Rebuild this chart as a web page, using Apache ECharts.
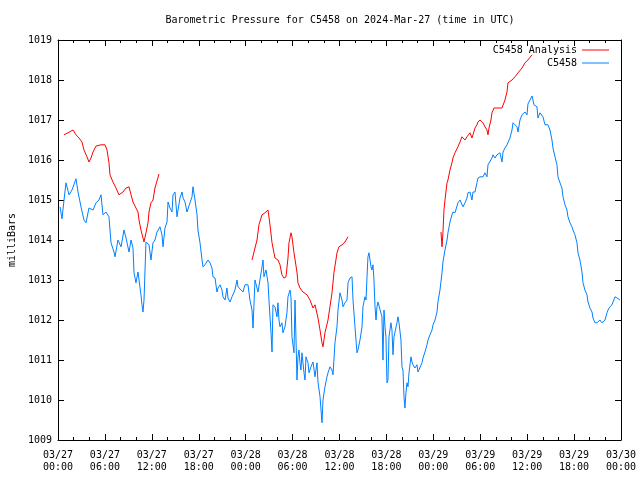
<!DOCTYPE html>
<html>
<head>
<meta charset="utf-8">
<script src="https://cdn.jsdelivr.net/npm/echarts@6/dist/echarts.min.js"></script>
<style>html,body{margin:0;padding:0;background:#fff}#c{width:640px;height:480px}</style>
</head>
<body>
<div id="c"></div>
<script>
// hours since 2024-03-27 00:00 UTC, pressure (mb)
const station = [
[0.26,1014.83],[0.51,1014.53],[0.77,1015.00],[1.02,1015.43],[1.41,1015.13],[1.79,1015.25],[2.30,1015.53],[2.56,1015.20],
[2.94,1014.83],[3.32,1014.50],[3.58,1014.43],[3.96,1014.80],[4.48,1014.75],[4.86,1014.93],[5.24,1015.00],[5.50,1015.13],
[5.75,1014.63],[6.14,1014.70],[6.52,1014.58],[6.78,1013.93],[7.16,1013.70],[7.29,1013.58],[7.67,1014.00],[8.06,1013.83],
[8.44,1014.25],[8.70,1014.05],[9.08,1013.70],[9.34,1014.00],[9.59,1013.80],[9.72,1013.18],[9.97,1012.93],[10.23,1013.20],
[10.36,1013.18],[10.61,1012.63],[10.74,1012.38],[10.87,1012.20],[11.00,1012.50],[11.13,1013.25],[11.25,1013.95],[11.64,1013.88],
[11.89,1013.50],[12.15,1013.93],[12.40,1014.00],[12.66,1014.20],[13.04,1014.33],[13.30,1014.13],[13.43,1013.83],[13.68,1014.30],
[13.94,1014.45],[14.07,1014.95],[14.32,1014.80],[14.58,1014.70],[14.71,1015.13],[14.96,1015.20],[15.22,1014.58],[15.35,1014.75],
[15.60,1015.05],[15.86,1015.20],[15.99,1015.05],[16.24,1014.95],[16.50,1014.70],[16.62,1014.68],[16.88,1014.93],[17.14,1015.08],
[17.26,1015.33],[17.52,1015.00],[17.78,1014.63],[17.90,1014.25],[18.16,1013.93],[18.42,1013.50],[18.54,1013.33],[18.80,1013.38],
[19.18,1013.50],[19.44,1013.43],[19.69,1013.30],[19.82,1013.08],[20.08,1013.05],[20.33,1012.70],[20.46,1012.80],[20.72,1012.88],
[20.97,1012.75],[21.10,1012.58],[21.36,1012.50],[21.61,1012.80],[21.74,1012.55],[22.00,1012.45],[22.25,1012.58],[22.38,1012.63],
[22.63,1012.75],[22.89,1013.00],[23.02,1012.83],[23.27,1012.80],[23.66,1012.70],[23.91,1012.88],[24.30,1012.88],[24.55,1012.50],
[24.81,1012.25],[24.94,1011.80],[25.19,1013.00],[25.45,1012.80],[25.58,1012.70],[25.83,1012.75],[26.09,1013.33],[26.22,1013.50],
[26.34,1013.08],[26.60,1013.25],[26.86,1012.93],[26.98,1012.50],[27.24,1011.68],[27.37,1011.20],[27.49,1012.38],[27.75,1012.33],
[28.01,1012.08],[28.13,1012.43],[28.26,1012.00],[28.39,1011.83],[28.64,1011.93],[28.77,1011.68],[29.03,1011.83],[29.28,1012.18],
[29.41,1012.58],[29.67,1012.75],[29.80,1012.55],[29.92,1011.58],[30.18,1011.18],[30.31,1012.50],[30.44,1011.50],[30.56,1010.50],
[30.69,1011.08],[30.82,1011.25],[30.95,1010.93],[31.07,1010.75],[31.20,1011.18],[31.46,1010.68],[31.59,1010.50],[31.71,1011.08],
[31.97,1010.93],[32.10,1010.68],[32.35,1010.83],[32.61,1010.95],[32.87,1010.58],[33.12,1010.93],[33.25,1010.45],[33.51,1010.08],
[33.76,1009.43],[33.89,1010.00],[34.14,1010.33],[34.40,1010.58],[34.53,1010.68],[34.78,1010.83],[35.04,1010.75],[35.17,1010.63],
[35.42,1011.43],[35.68,1011.83],[35.81,1012.25],[36.06,1012.68],[36.32,1012.50],[36.45,1012.33],[36.70,1012.43],[36.96,1012.50],
[37.09,1012.93],[37.34,1013.05],[37.60,1013.08],[37.73,1012.50],[37.98,1011.83],[38.11,1011.50],[38.24,1011.18],[38.36,1011.25],
[38.62,1011.50],[38.88,1011.83],[39.00,1012.33],[39.26,1012.58],[39.39,1012.50],[39.52,1013.08],[39.64,1013.58],[39.77,1013.68],
[40.03,1013.33],[40.15,1013.25],[40.28,1013.38],[40.41,1013.00],[40.54,1012.33],[40.67,1012.00],[40.79,1012.33],[40.92,1012.45],
[41.05,1012.43],[41.43,1012.08],[41.56,1011.00],[41.69,1012.25],[41.82,1011.83],[41.94,1011.58],[42.07,1010.43],[42.20,1010.50],
[42.33,1011.58],[42.58,1011.93],[42.71,1011.75],[42.84,1011.13],[42.97,1011.58],[43.22,1011.63],[43.35,1011.93],[43.48,1012.08],
[43.61,1011.93],[43.86,1011.50],[43.99,1010.83],[44.12,1010.75],[44.25,1010.08],[44.37,1009.80],[44.50,1010.18],[44.63,1010.43],
[44.76,1010.33],[44.89,1010.68],[45.14,1011.08],[45.27,1010.95],[45.40,1010.88],[45.65,1010.80],[45.91,1010.88],[46.04,1010.70],
[46.29,1010.70],[46.55,1010.93],[46.68,1011.05],[46.93,1011.20],[47.19,1011.38],[47.32,1011.50],[47.57,1011.63],[47.83,1011.75],
[47.96,1011.88],[48.21,1012.00],[48.47,1012.20],[48.59,1012.45],[48.85,1012.75],[49.11,1013.18],[49.23,1013.45],[49.49,1013.75],
[49.75,1014.00],[49.87,1014.18],[50.13,1014.45],[50.38,1014.63],[50.51,1014.70],[50.77,1014.68],[51.02,1014.70],[51.15,1014.93],
[51.41,1015.00],[51.66,1015.00],[51.79,1014.83],[52.05,1014.93],[52.30,1015.05],[52.43,1015.18],[52.69,1015.20],[52.94,1015.00],
[53.07,1015.20],[53.33,1015.20],[53.58,1015.43],[53.71,1015.55],[53.97,1015.58],[54.22,1015.55],[54.35,1015.58],[54.61,1015.68],
[54.86,1015.58],[54.99,1015.88],[55.24,1015.93],[55.50,1016.05],[55.63,1016.13],[55.88,1016.05],[56.14,1016.13],[56.27,1016.13],
[56.52,1016.18],[56.78,1015.95],[56.91,1016.20],[57.16,1016.30],[57.42,1016.38],[57.55,1016.43],[57.80,1016.55],[58.06,1016.75],
[58.19,1016.93],[58.44,1016.93],[58.70,1016.83],[58.83,1016.70],[59.08,1017.00],[59.34,1017.13],[59.47,1017.13],[59.72,1017.20],
[59.98,1017.13],[60.10,1017.40],[60.36,1017.50],[60.62,1017.60],[60.74,1017.55],[60.87,1017.38],[61.00,1017.43],[61.25,1017.33],
[61.38,1017.05],[61.64,1017.18],[61.89,1017.20],[62.02,1017.08],[62.28,1016.88],[62.53,1016.93],[62.66,1016.88],[62.92,1016.75],
[63.17,1016.50],[63.30,1016.30],[63.56,1016.08],[63.81,1015.88],[63.94,1015.58],[64.20,1015.43],[64.45,1015.30],[64.58,1015.08],
[64.84,1014.88],[65.09,1014.75],[65.22,1014.58],[65.47,1014.43],[65.73,1014.33],[65.86,1014.25],[66.11,1014.13],[66.37,1013.93],
[66.50,1013.68],[66.75,1013.50],[67.01,1013.20],[67.14,1012.93],[67.39,1012.75],[67.65,1012.63],[67.78,1012.45],[68.03,1012.30],
[68.29,1012.20],[68.42,1012.05],[68.67,1011.93],[68.93,1011.93],[69.06,1011.93],[69.31,1012.00],[69.57,1011.93],[69.70,1011.93],
[69.95,1012.00],[70.21,1012.18],[70.34,1012.25],[70.59,1012.33],[70.85,1012.38],[70.97,1012.43],[71.23,1012.58],[71.49,1012.55],
[71.61,1012.50],[71.87,1012.50]
];
const analysisSeg1 = [
[0.77,1016.63],[1.28,1016.68],[1.92,1016.75],[2.30,1016.63],[2.69,1016.55],[3.07,1016.45],[3.32,1016.25],[3.71,1016.08],
[3.96,1015.95],[4.22,1016.05],[4.48,1016.20],[4.86,1016.35],[5.50,1016.38],[6.01,1016.38],[6.27,1016.25],[6.52,1015.93],
[6.65,1015.63],[7.03,1015.45],[7.42,1015.30],[7.80,1015.13],[8.31,1015.20],[8.70,1015.30],[9.08,1015.33],[9.34,1015.13],
[9.59,1014.95],[9.97,1014.80],[10.23,1014.70],[10.36,1014.50],[10.61,1014.25],[10.87,1014.05],[11.00,1013.95],[11.25,1014.18],
[11.51,1014.43],[11.64,1014.70],[11.89,1014.93],[12.15,1015.00],[12.40,1015.30],[12.92,1015.65]
];
const analysisSeg2 = [
[24.81,1013.50],[25.06,1013.55],[25.45,1014.00],[25.70,1014.38],[26.09,1014.63],[26.47,1014.68],[26.86,1014.75],[27.11,1014.38],
[27.37,1013.93],[27.75,1013.55],[28.13,1013.50],[28.39,1013.38],[28.64,1013.13],[28.90,1013.05],[29.16,1013.08],[29.41,1013.55],
[29.54,1013.93],[29.80,1014.18],[29.92,1014.08],[30.18,1013.68],[30.56,1013.20],[30.69,1012.93],[30.95,1012.80],[31.33,1012.70],
[31.84,1012.63],[32.23,1012.50],[32.61,1012.30],[32.87,1012.38],[33.12,1012.33],[33.25,1012.05],[33.51,1011.75],[33.76,1011.43],
[33.89,1011.33],[34.14,1011.68],[34.53,1012.00],[34.78,1012.33],[35.04,1012.68],[35.29,1013.18],[35.68,1013.68],[35.93,1013.83],
[36.32,1013.88],[36.70,1013.95],[37.09,1014.08]
];
const analysisSeg3 = [
[48.98,1014.20],[49.11,1013.83],[49.23,1014.18],[49.36,1014.75],[49.49,1015.00],[49.75,1015.43],[49.87,1015.50],[50.13,1015.75],
[50.38,1015.93],[50.51,1016.05],[50.77,1016.18],[51.02,1016.20],[51.15,1016.33],[51.41,1016.45],[51.66,1016.58],[51.79,1016.55],
[52.05,1016.50],[52.30,1016.58],[52.43,1016.63],[52.69,1016.68],[52.94,1016.55],[53.07,1016.63],[53.33,1016.80],[53.58,1016.88],
[53.71,1016.95],[53.97,1017.00],[54.22,1016.95],[54.35,1016.93],[54.61,1016.83],[54.86,1016.75],[54.99,1016.63],[55.12,1016.80],
[55.37,1017.00],[55.50,1017.18],[55.76,1017.30],[56.27,1017.30],[56.78,1017.30],[56.91,1017.33],[57.16,1017.50],[57.42,1017.70],
[57.55,1017.93],[58.06,1018.00],[58.44,1018.08],[58.83,1018.18],[59.08,1018.20],[59.34,1018.30],[59.72,1018.43],[60.10,1018.50],
[60.62,1018.63]
];
const dayLabels = ['03/27','03/28','03/29','03/30'];
const yTicks = [1009,1019];

const FONT = 'DejaVu Sans Mono';
const analysis = analysisSeg1.concat([[18, null]], analysisSeg2, [[43, null]], analysisSeg3);

const chart = echarts.init(document.getElementById('c'), null, {renderer:'canvas'});
function xLabel(v){
  if (v % 6 !== 0) return '';
  const d = Math.floor(v/24), h = v - d*24;
  return dayLabels[d] + '\n' + (h<10?'0':'') + h + ':00';
}
const axisCommon = {
  axisLine:{show:true, onZero:false, lineStyle:{color:'#000', width:1}},
  axisTick:{show:true, inside:true, length:6, lineStyle:{color:'#000'}},
  splitLine:{show:false}
};
const legendCommon = {right:31, align:'right', orient:'vertical', padding:0, itemWidth:27, itemHeight:1, icon:'rect',
  textStyle:{fontFamily:FONT, fontSize:10, color:'#000'}};
chart.setOption({
  animation:false,
  backgroundColor:'#fff',
  graphic:[{type:'text', x:340, y:20, style:{text:'Barometric Pressure for C5458 on 2024-Mar-27 (time in UTC)', font:'10px "DejaVu Sans Mono"', fill:'#000', align:'center', verticalAlign:'middle'}}],
  grid:{left:58, right:19, top:40, bottom:40, containLabel:false, outerBoundsMode:'none'},
  legend:[
    Object.assign({data:['C5458 Analysis'], top:45}, legendCommon),
    Object.assign({data:['C5458'], top:58}, legendCommon)
  ],
  xAxis:[
    Object.assign({type:'value', min:0, max:72, interval:6, position:'bottom',
      minorTick:{show:true, splitNumber:3, length:3, lineStyle:{color:'#000'}},
      axisLabel:{formatter:xLabel, fontFamily:FONT, fontSize:10, color:'#000', margin:9, lineHeight:12, showMinLabel:true, showMaxLabel:true}}, axisCommon),
    Object.assign({type:'value', min:0, max:72, interval:6, position:'top',
      minorTick:{show:true, splitNumber:3, length:3, lineStyle:{color:'#000'}},
      axisLabel:{show:false}}, axisCommon)
  ],
  yAxis:[
    Object.assign({type:'value', min:yTicks[0], max:yTicks[1], interval:1, position:'left',
      name:'milliBars', nameLocation:'middle', nameGap:36, nameRotate:90,
      nameTextStyle:{fontFamily:FONT, fontSize:10, color:'#000'},
      axisLabel:{formatter:function(v){return String(v);}, fontFamily:FONT, fontSize:10, color:'#000', margin:6}}, axisCommon),
    Object.assign({type:'value', min:yTicks[0], max:yTicks[1], interval:1, position:'right',
      axisLabel:{show:false}}, axisCommon)
  ],
  series:[
    {name:'C5458 Analysis', type:'line', data:analysis, symbol:'none', connectNulls:false,
     lineStyle:{color:'#ff0000', width:1}, itemStyle:{color:'#ff0000'}, z:3},
    {name:'C5458', type:'line', data:station, symbol:'none',
     lineStyle:{color:'#0080ff', width:1}, itemStyle:{color:'#0080ff'}, z:2}
  ]
});
</script>
</body>
</html>
